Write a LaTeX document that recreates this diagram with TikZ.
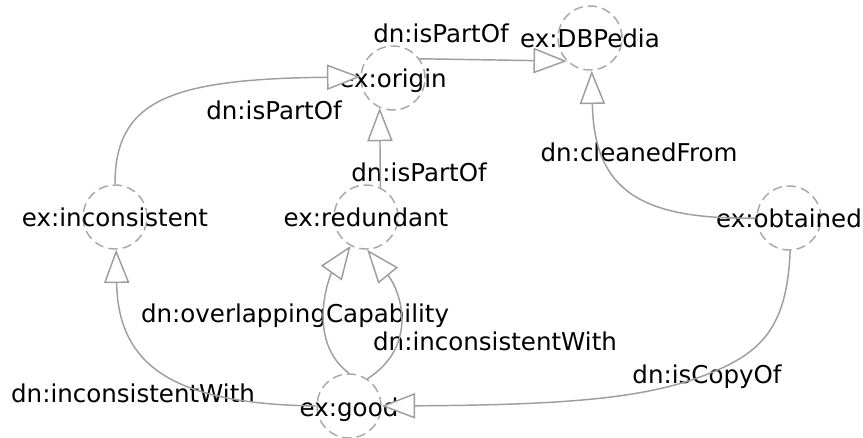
\documentclass[tikz,border=0pt]{standalone}
\usepackage{fontspec}
\setmainfont{DejaVu Sans}
\usetikzlibrary{arrows.meta}

\definecolor{edgegray}{RGB}{158,158,158}
\definecolor{nodegray}{RGB}{168,168,168}

\tikzset{
  entity/.style={circle, draw=nodegray, dash pattern=on 7pt off 3.8pt, line width=1.1pt, minimum size=48pt, inner sep=0pt},
  entlabel/.style={anchor=base, inner sep=0pt, font=\fontsize{18.4}{22}\selectfont, yshift=-7.5pt},
  rellabel/.style={anchor=base, inner sep=0pt, font=\fontsize{18.4}{22}\selectfont},
  rel/.style={draw=edgegray, line width=1.1pt, -{Triangle[length=25pt, width=19pt, fill=white, line width=1.1pt]}}
}

\begin{document}
\begin{tikzpicture}[x=0.75pt,y=0.75pt,yscale=-1,xscale=1]
\useasboundingbox (0,0) rectangle (863,438);

%Shape: Circle [ex:inconsistent]
\node [entity] (inconsistent) at (115,217) {};
%Shape: Circle [ex:redundant]
\node [entity] (redundant) at (366,217) {};
%Shape: Circle [ex:origin]
\node [entity] (origin) at (393,78) {};
%Shape: Circle [ex:DBPedia]
\node [entity] (dbpedia) at (590,38) {};
%Shape: Circle [ex:obtained]
\node [entity] (obtained) at (789,218) {};
%Shape: Circle [ex:good]
\node [entity] (good) at (349,406) {};

% Text Node
\node [entlabel] (t-inconsistent) at (inconsistent) {ex:inconsistent};
% Text Node
\node [entlabel] (t-redundant) at (redundant) {ex:redundant};
% Text Node
\node [entlabel] (t-origin) at (origin) {ex:origin};
% Text Node
\node [entlabel] (t-dbpedia) at (dbpedia) {ex:DBPedia};
% Text Node
\node [entlabel] (t-obtained) at (obtained) {ex:obtained};
% Text Node
\node [entlabel] (t-good) at (good) {ex:good};

% Text Node
\node [rellabel] (l-top) at (441,43) {dn:isPartOf};
% Text Node
\node [rellabel] (l-left) at (274,120) {dn:isPartOf};
% Text Node
\node [rellabel] (l-mid) at (419,182) {dn:isPartOf};
% Text Node
\node [rellabel] (l-clean) at (639,162) {dn:cleanedFrom};
% Text Node
\node [rellabel] (l-overlap) at (295,322) {dn:overlappingCapability};
% Text Node
\node [rellabel] (l-incmid) at (495,350) {dn:inconsistentWith};
% Text Node
\node [rellabel] (l-incleft) at (133,402) {dn:inconsistentWith};
% Text Node
\node [rellabel] (l-copy) at (707,383) {dn:isCopyOf};

%Straight Lines
\draw [rel] (origin.36) -- (dbpedia.225);
%Curve Lines
\draw [rel] (inconsistent.90) .. controls (115,100) and (170,79) .. (origin.178);
%Straight Lines
\draw [rel] (redundant.64) -- (origin.246);
%Curve Lines
\draw [rel] (obtained.180) .. controls (640,220) and (594,190) .. (dbpedia.273);
%Curve Lines
\draw [rel] (obtained.272) .. controls (787,330) and (760,355) .. (700,377) .. controls (640,399) and (560,405) .. (good.0);
%Curve Lines
\draw [rel] (good.180) .. controls (180,404) and (118,370) .. (inconsistent.272);
%Curve Lines
\draw [rel] (good.90) .. controls (305,340) and (330,275) .. (redundant.242);
%Curve Lines
\draw [rel] (good.56) .. controls (420,345) and (400,290) .. (redundant.272);
\end{tikzpicture}
\end{document}
